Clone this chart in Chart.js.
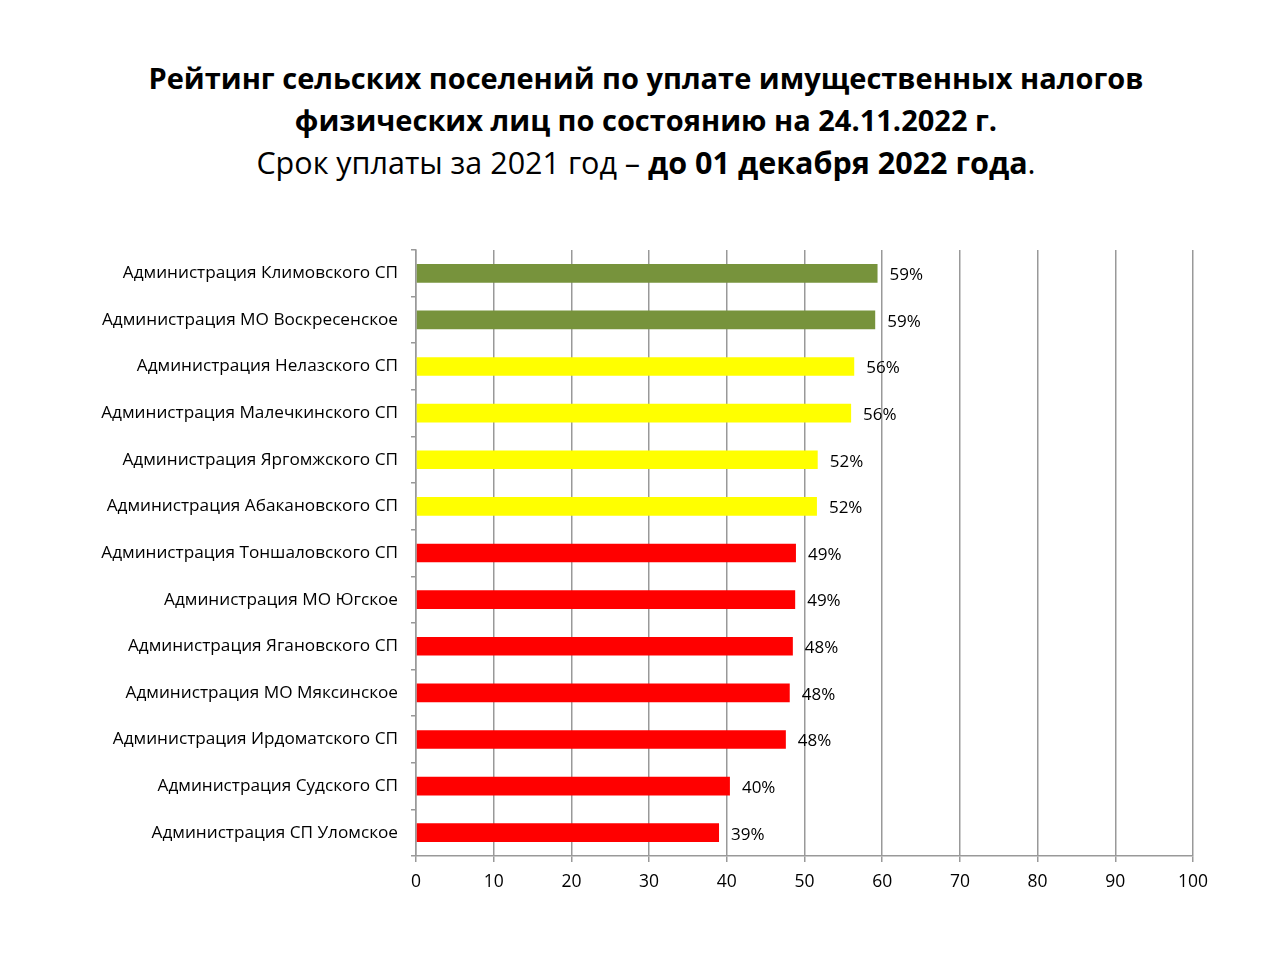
<!DOCTYPE html>
<html>
<head>
<meta charset="utf-8">
<script src="https://cdn.jsdelivr.net/npm/chart.js@4"></script>
<style>
  html, body { margin: 0; padding: 0; background: #fff; }
  #wrap { position: relative; width: 1280px; height: 958px; }
  #title {
    position: absolute; left: 0; top: 57px; width: 1292px;
    text-align: center; font-family: "Open Sans", sans-serif;
    font-size: 29px; line-height: 42px; color: #000;
  }
  #title b { font-weight: 700; }
  #title .l3 { font-size: 30.5px; }
  canvas { position: absolute; left: 0; top: 0; }
</style>
</head>
<body>
<div id="wrap">
  <div id="title">
    <b>Рейтинг сельских поселений по уплате имущественных налогов</b><br>
    <b>физических лиц по состоянию на 24.11.2022 г.</b><br>
    <span class="l3">Срок уплаты за 2021 год – <b>до 01 декабря 2022 года</b>.</span>
  </div>
  <canvas id="chart" width="1280" height="958"></canvas>
</div>
<script>
// ================== DATA ==================
const categories = [
    'Администрация Климовского СП',
    'Администрация МО Воскресенское',
    'Администрация Нелазского СП',
    'Администрация Малечкинского СП',
    'Администрация Яргомжского СП',
    'Администрация Абакановского СП',
    'Администрация Тоншаловского СП',
    'Администрация МО Югское',
    'Администрация Ягановского СП',
    'Администрация МО Мяксинское',
    'Администрация Ирдоматского СП',
    'Администрация Судского СП',
    'Администрация СП Уломское'
];
const values = [59.4, 59.1, 56.4, 56.0, 51.7, 51.6, 48.9, 48.8, 48.5, 48.1, 47.6, 40.4, 39.0];
const valueLabels = ['59%', '59%', '56%', '56%', '52%', '52%', '49%', '49%', '48%', '48%', '48%', '40%', '39%'];
const barColors = [
    '#77933C', '#77933C',
    '#FFFF00', '#FFFF00', '#FFFF00', '#FFFF00',
    '#FF0000', '#FF0000', '#FF0000', '#FF0000', '#FF0000', '#FF0000', '#FF0000'
];
const xTicks = [0, 10, 20, 30, 40, 50, 60, 70, 80, 90, 100];

// value labels to the right of each bar
const barLabels = {
    id: 'barLabels',
    afterDatasetsDraw(chart) {
        const ctx = chart.ctx;
        const meta = chart.getDatasetMeta(0);
        ctx.save();
        ctx.font = '17px "Open Sans", sans-serif';
        ctx.fillStyle = '#000';
        ctx.textAlign = 'left';
        ctx.textBaseline = 'middle';
        meta.data.forEach((bar, i) => {
            ctx.fillText(valueLabels[i], bar.x + 12, bar.y + 2);
        });
        ctx.restore();
    }
};

new Chart(document.getElementById('chart'), {
    type: 'bar',
    data: {
        labels: categories,
        datasets: [{
            data: values,
            backgroundColor: barColors,
            barPercentage: 0.4,
            categoryPercentage: 1.0
        }]
    },
    options: {
        indexAxis: 'y',
        responsive: false,
        animation: false,
        events: [],
        layout: { padding: { left: 0, right: 87, top: 250, bottom: 62 } },
        plugins: {
            legend: { display: false },
            tooltip: { enabled: false },
            title: { display: false }
        },
        scales: {
            x: {
                min: 0, max: 100,
                afterBuildTicks: axis => { axis.ticks = xTicks.map(v => ({ value: v })); },
                afterFit: axis => { axis.height = 40; },
                grid: { color: '#999', lineWidth: 1.5, tickLength: 6 },
                border: { color: '#999', width: 1.5 },
                ticks: { color: '#000', font: { family: 'Open Sans', size: 17.5 }, padding: 10 }
            },
            y: {
                afterFit: axis => { axis.width = 416; },
                grid: { drawOnChartArea: false, color: '#999', lineWidth: 1.5, tickLength: 5 },
                border: { color: '#999', width: 1.5 },
                ticks: { color: '#000', font: { family: 'Open Sans', size: 17.2 }, padding: 13 }
            }
        }
    },
    plugins: [barLabels]
});
</script>
</body>
</html>
